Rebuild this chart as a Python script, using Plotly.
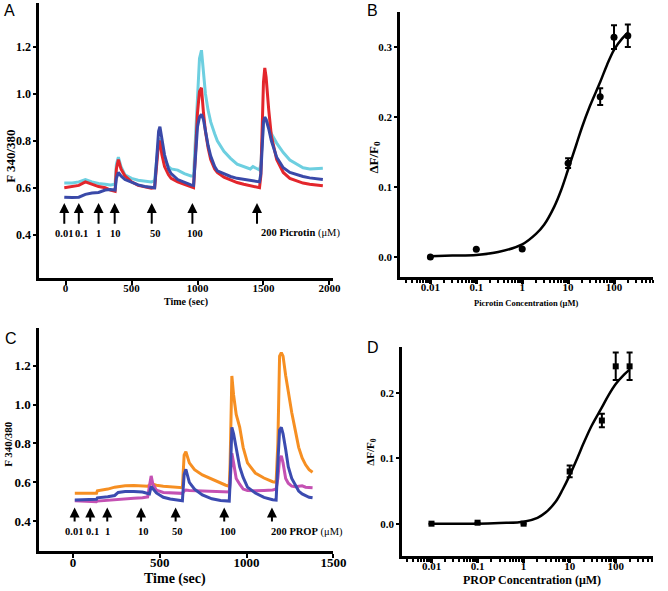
import plotly.graph_objects as go

# ---------------- panel A: picrotin time course ----------------
a_time = [-10, 50, 100, 150, 200, 250, 300, 340, 375, 385, 400, 420, 450, 500, 550, 600,
          650, 675, 690, 705, 715, 730, 750, 780, 800, 850, 900, 950, 970, 985, 1000,
          1015, 1030, 1045, 1060, 1080, 1100, 1130, 1150, 1200, 1250, 1300, 1350, 1400,
          1420, 1440, 1470, 1480, 1490, 1500, 1510, 1520, 1540, 1560, 1600, 1650, 1700,
          1750, 1800, 1850, 1900, 1950]
a_cyan = [0.62, 0.62, 0.625, 0.635, 0.625, 0.618, 0.615, 0.612, 0.615, 0.70, 0.73, 0.69,
          0.655, 0.64, 0.632, 0.628, 0.625, 0.63, 0.72, 0.80, 0.81, 0.76, 0.72, 0.69, 0.68,
          0.675, 0.66, 0.65, 0.65, 0.80, 1.00, 1.15, 1.185, 1.10, 1.00, 0.93, 0.88, 0.83,
          0.80, 0.755, 0.725, 0.70, 0.69, 0.68, 0.69, 0.685, 0.675, 0.70, 0.80, 0.88, 0.90,
          0.89, 0.86, 0.83, 0.79, 0.75, 0.718, 0.70, 0.685, 0.68, 0.68, 0.683]
a_red = [0.60, 0.605, 0.61, 0.625, 0.615, 0.605, 0.60, 0.59, 0.585, 0.68, 0.72, 0.68,
         0.65, 0.625, 0.61, 0.605, 0.598, 0.60, 0.70, 0.79, 0.80, 0.74, 0.69, 0.655, 0.64,
         0.625, 0.615, 0.602, 0.60, 0.75, 0.92, 1.01, 1.025, 0.92, 0.84, 0.77, 0.72, 0.68,
         0.665, 0.645, 0.632, 0.622, 0.615, 0.61, 0.608, 0.605, 0.60, 0.65, 0.85, 1.05,
         1.11, 1.07, 0.93, 0.82, 0.72, 0.665, 0.64, 0.63, 0.62, 0.615, 0.61, 0.608]
a_blue = [0.56, 0.558, 0.56, 0.572, 0.578, 0.58, 0.59, 0.592, 0.59, 0.64, 0.665, 0.65,
          0.635, 0.622, 0.612, 0.605, 0.60, 0.60, 0.72, 0.84, 0.86, 0.80, 0.74, 0.68, 0.66,
          0.635, 0.622, 0.612, 0.61, 0.72, 0.86, 0.90, 0.912, 0.89, 0.84, 0.78, 0.735, 0.69,
          0.672, 0.66, 0.648, 0.64, 0.635, 0.632, 0.63, 0.628, 0.625, 0.66, 0.80, 0.88,
          0.90, 0.89, 0.85, 0.80, 0.73, 0.685, 0.665, 0.655, 0.648, 0.642, 0.638, 0.635]
a_dose_time = [-10, 100, 250, 372, 653, 961, 1451]
a_dose_label = ["0.01", "0.1", "1", "10", "50", "100", "200 Picrotin"]
a_label_time = [-10, 118, 246, 377, 680, 980, 1465]

# ---------------- panel B: picrotin dose response ----------------
b_conc = [0.01, 0.1, 1, 10, 50, 100, 200]
b_resp = [0.000, 0.011, 0.0115, 0.134, 0.229, 0.314, 0.316]
b_err = [0.0, 0.0, 0.0, 0.007, 0.012, 0.017, 0.016]
b_fit_conc = [0.01, 0.03, 0.1, 0.3, 1, 2, 3, 5, 7, 10, 15, 20, 30, 50, 70, 100, 150, 200]
b_fit_resp = [0.001, 0.002, 0.003, 0.007, 0.018, 0.033, 0.046, 0.072, 0.095, 0.125,
              0.16, 0.185, 0.216, 0.25, 0.274, 0.296, 0.312, 0.32]

# ---------------- panel C: PROP time course ----------------
c_time = [10, 50, 100, 135, 140, 180, 200, 240, 260, 300, 350, 400, 430, 440, 450, 460,
          480, 520, 560, 600, 620, 630, 640, 650, 670, 700, 745, 800, 850, 880, 900, 905,
          915, 925, 940, 960, 980, 1005, 1050, 1100, 1150, 1170, 1180, 1190, 1200, 1210,
          1225, 1240, 1260, 1280, 1300, 1320, 1340, 1360, 1380]
c_orange = [0.543, 0.543, 0.543, 0.543, 0.556, 0.56, 0.565, 0.575, 0.578, 0.582, 0.583,
            0.582, 0.58, 0.585, 0.595, 0.59, 0.585, 0.58, 0.576, 0.573, 0.572, 0.572, 0.74,
            0.758, 0.70, 0.665, 0.638, 0.615, 0.595, 0.585, 0.58, 0.70, 1.148, 1.05, 0.95,
            0.885, 0.78, 0.70, 0.648, 0.622, 0.603, 0.60, 0.80, 1.25, 1.268, 1.25, 1.15,
            1.06, 0.96, 0.87, 0.78, 0.725, 0.69, 0.665, 0.652]
c_magenta = [0.505, 0.503, 0.502, 0.50, 0.503, 0.506, 0.508, 0.512, 0.513, 0.516, 0.518,
             0.52, 0.525, 0.58, 0.633, 0.59, 0.56, 0.548, 0.545, 0.543, 0.543, 0.543, 0.555,
             0.56, 0.558, 0.557, 0.556, 0.553, 0.55, 0.55, 0.55, 0.60, 0.749, 0.70, 0.62,
             0.59, 0.565, 0.558, 0.556, 0.558, 0.56, 0.565, 0.62, 0.72, 0.736, 0.70, 0.62,
             0.595, 0.58, 0.577, 0.578, 0.582, 0.575, 0.575, 0.572]
c_blue = [0.509, 0.51, 0.51, 0.512, 0.52, 0.522, 0.526, 0.532, 0.548, 0.552, 0.553, 0.55,
          0.545, 0.54, 0.578, 0.565, 0.545, 0.523, 0.514, 0.509, 0.506, 0.505, 0.64, 0.667,
          0.60, 0.565, 0.535, 0.515, 0.506, 0.504, 0.503, 0.60, 0.883, 0.85, 0.77, 0.68,
          0.625, 0.575, 0.545, 0.522, 0.51, 0.508, 0.70, 0.87, 0.883, 0.85, 0.77, 0.68,
          0.62, 0.585, 0.555, 0.54, 0.53, 0.523, 0.52]
c_dose_time = [9, 99, 197, 392, 591, 871, 1146]
c_dose_label = ["0.01", "0.1", "1", "10", "50", "100", "200 PROP"]
c_label_time = [3, 113, 201, 403, 600, 891, 1131]

# ---------------- panel D: PROP dose response ----------------
d_conc = [0.01, 0.1, 1, 10, 50, 100, 200]
d_resp = [0.0, 0.0015, 0.0, 0.080, 0.158, 0.241, 0.241]
d_err = [0.0, 0.0, 0.0, 0.009, 0.0105, 0.021, 0.021]
d_fit_conc = [0.01, 0.1, 0.3, 1, 2, 3, 5, 7, 10, 15, 20, 30, 50, 70, 100, 150, 200]
d_fit_resp = [0.0, 0.0, 0.001, 0.003, 0.009, 0.017, 0.034, 0.052, 0.074, 0.102, 0.123,
              0.15, 0.178, 0.197, 0.214, 0.228, 0.236]

SERIF = "Liberation Serif, Times New Roman, serif"
SANS = "Liberation Sans, Arial, sans-serif"
TICKFONT = dict(family=SERIF, size=12, color="black", weight="bold")

W, H = 668, 591


def fx(px):
    return px / W


def fy(py):
    return 1 - py / H


fig = go.Figure()

for y, col in [(a_cyan, "#6dcfe0"), (a_red, "#e3262c"), (a_blue, "#3a49a8")]:
    fig.add_trace(go.Scatter(x=a_time, y=y, mode="lines", xaxis="x", yaxis="y",
                             line=dict(color=col, width=3)))

fig.add_trace(go.Scatter(x=b_fit_conc, y=b_fit_resp, mode="lines", xaxis="x2", yaxis="y2",
                         line=dict(color="black", width=2.5, shape="spline")))
fig.add_trace(go.Scatter(x=b_conc, y=b_resp, mode="markers", xaxis="x2", yaxis="y2",
                         marker=dict(color="black", size=7, symbol="circle"),
                         error_y=dict(type="data", array=b_err, color="black",
                                      thickness=2, width=3)))

for y, col in [(c_orange, "#f68f22"), (c_magenta, "#c451b3"), (c_blue, "#3b4bb0")]:
    fig.add_trace(go.Scatter(x=c_time, y=y, mode="lines", xaxis="x3", yaxis="y3",
                             line=dict(color=col, width=3)))

fig.add_trace(go.Scatter(x=d_fit_conc, y=d_fit_resp, mode="lines", xaxis="x4", yaxis="y4",
                         line=dict(color="black", width=2.5, shape="spline")))
fig.add_trace(go.Scatter(x=d_conc, y=d_resp, mode="markers", xaxis="x4", yaxis="y4",
                         marker=dict(color="black", size=6, symbol="square"),
                         error_y=dict(type="data", array=d_err, color="black",
                                      thickness=2, width=3)))

axis_common = dict(showline=True, linecolor="black", linewidth=2.5, ticks="outside",
                   ticklen=4, tickwidth=2, tickcolor="black", showgrid=False,
                   zeroline=False, tickfont=TICKFONT)
xaxis_common = dict(axis_common, ticklabelstandoff=-6)
yaxis_common = dict(axis_common, ticklen=3, tickformat=".1f")
log_common = dict(xaxis_common, type="log", tickvals=[0.01, 0.1, 1, 10, 100],
                  ticktext=["0.01", "0.1", "1", "10", "100"], ticklen=4, tickwidth=3,
                  tickfont=dict(TICKFONT, size=11),
                  minor=dict(dtick="D1", ticks="outside", ticklen=3, tickwidth=2,
                             tickcolor="black", showgrid=False))

fig.update_layout(
    width=W, height=H, margin=dict(l=0, r=0, t=0, b=0),
    paper_bgcolor="white", plot_bgcolor="white", showlegend=False,
    xaxis=dict(xaxis_common, domain=[fx(40), fx(340)], range=[-200, 2030], anchor="y",
               tickvals=[0, 500, 1000, 1500, 2000], tickfont=dict(TICKFONT, size=11)),
    yaxis=dict(yaxis_common, domain=[fy(278), fy(3)], range=[0.216, 1.386], anchor="x",
               tickvals=[0.4, 0.6, 0.8, 1.0, 1.2]),
    xaxis2=dict(log_common, domain=[fx(408), fx(666)], range=[-2.66, 2.85], anchor="y2"),
    yaxis2=dict(yaxis_common, domain=[fy(277), fy(12)], range=[-0.0286, 0.35], anchor="x2",
                tickvals=[0, 0.1, 0.2, 0.3], tickfont=dict(TICKFONT, size=11)),
    xaxis3=dict(xaxis_common, domain=[fx(40), fx(340)], range=[-195, 1500], anchor="y3",
                tickvals=[0, 500, 1000, 1500], tickfont=dict(TICKFONT, size=13)),
    yaxis3=dict(yaxis_common, domain=[fy(551), fy(328)], range=[0.246, 1.395], anchor="x3",
                tickvals=[0.4, 0.6, 0.8, 1.0, 1.2], tickfont=dict(TICKFONT, size=13)),
    xaxis4=dict(log_common, domain=[fx(410), fx(666)], range=[-2.64, 2.81], anchor="y4"),
    yaxis4=dict(yaxis_common, domain=[fy(556), fy(347)], range=[-0.0495, 0.2706],
                anchor="x4", tickvals=[0, 0.1, 0.2], tickfont=dict(TICKFONT, size=11)),
)

# dose arrows and labels
for xr, yr, times, ltimes, labels, y0, y1, ylab in [
        ("x", "y", a_dose_time, a_label_time, a_dose_label, 0.44, 0.535, 0.407),
        ("x3", "y3", c_dose_time, c_label_time, c_dose_label, 0.39, 0.47, 0.345)]:
    for t, lt, lab in zip(times, ltimes, labels):
        fig.add_annotation(x=t, y=y1, ax=t, ay=y0, xref=xr, yref=yr, axref=xr, ayref=yr,
                           text="", showarrow=True, arrowhead=2, arrowsize=1,
                           arrowwidth=2, arrowcolor="black")
        last = lab.startswith("200")
        fig.add_annotation(x=lt, y=ylab, xref=xr, yref=yr, showarrow=False,
                           text=f"<b>{lab}</b> (μM)" if last else f"<b>{lab}</b>",
                           xanchor="left" if last else "center", yanchor="middle",
                           font=dict(family=SERIF, size=10.5, color="black"))

# axis titles and panel letters (pixel positions of their centres)
titles = [
    (10, 156, "<b>F 340/380</b>", -90, 13),
    (190, 302, "<b>Time (sec)</b>", 0, 10),
    (381, 157, "<b>ΔF/F<sub>0</sub></b>", -90, 13),
    (536, 303, "<b>Picrotin Concentration (μM)</b>", 0, 8.5),
    (8, 444, "<b>F 340/380</b>", -90, 11),
    (178, 579, "<b>Time (sec)</b>", 0, 14),
    (378, 452, "<b>ΔF/F<sub>0</sub></b>", -90, 11),
    (543, 580, "<b>PROP Concentration (μM)</b>", 0, 12),
]
for px, py, txt, ang, sz in titles:
    fig.add_annotation(x=fx(px), y=fy(py), xref="paper", yref="paper",
                       xanchor="center", yanchor="middle",
                       text=txt, textangle=ang, showarrow=False,
                       font=dict(family=SERIF, size=sz, color="black"))

for px, py, letter in [(10, 10, "A"), (380, 10, "B"), (11, 338, "C"), (380, 347, "D")]:
    fig.add_annotation(x=fx(px), y=fy(py), xref="paper", yref="paper",
                       xanchor="center", yanchor="middle",
                       text=letter, showarrow=False,
                       font=dict(family=SANS, size=16, color="black"))

# drop the default page margin so the figure sits at the window's corner
fig.write_html("out.html", config={"displayModeBar": False},
               post_script="document.body.style.margin='0';")
